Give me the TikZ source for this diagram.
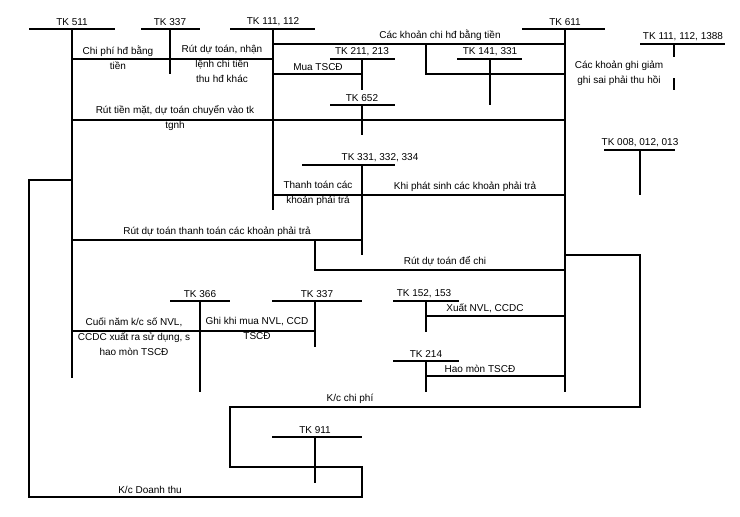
\documentclass[tikz,border=0pt]{standalone}
\usepackage{fontspec}
\setmainfont{Liberation Sans}
\begin{document}
\begin{tikzpicture}[x=1pt,y=-1pt,line width=1.1pt,
  t/.style={inner sep=0pt,font=\fontsize{10}{15}\selectfont,align=center},
  acc/.style={t,anchor=south}]
\useasboundingbox (0,0) rectangle (740,517);
% T accounts: bars + verticals
\draw (29,29)--(115,29) (72,29)--(72,378);
\node[acc] (k511) at (72,26) {TK 511};
\draw (141,29)--(200,29) (170,29)--(170,74);
\node[acc] (k337a) at (170,26) {TK 337};
\draw (230,29)--(315,29) (273,29)--(273,210);
\node[acc] (k111) at (273,26) {TK 111, 112};
\draw (522,29)--(605,29) (565,29)--(565,392);
\node[acc] (k611) at (565,26) {TK 611};
\draw (330,59)--(395,59) (362,59)--(362,90);
\node[acc] (k211) at (362,56) {TK 211, 213};
\draw (457,59)--(522,59) (490,59)--(490,105);
\node[acc] (k141) at (490,56) {TK 141, 331};
\draw (640,44)--(725,44) (674,44)--(674,57) (674,78)--(674,90);
\node[acc] (k1388) at (683,41) {TK 111, 112, 1388};
\draw (330,105)--(395,105) (362,105)--(362,135);
\node[acc] (k652) at (362,102) {TK 652};
\draw (302,165)--(395,165) (362,165)--(362,255);
\node[acc] (k331) at (380,162) {TK 331, 332, 334};
\draw (604,150)--(675,150) (640,150)--(640,195);
\node[acc] (k008) at (640,147) {TK 008, 012, 013};
\draw (170,301)--(230,301) (200,301)--(200,392);
\node[acc] (k366) at (200,298) {TK 366};
\draw (272,301)--(362,301) (315,301)--(315,347);
\node[acc] (k337b) at (317,298) {TK 337};
\draw (393,301)--(459,301) (426,301)--(426,332);
\node[acc] (k152) at (424,298) {TK 152, 153};
\draw (393,361)--(459,361) (426,361)--(426,392);
\node[acc] (k214) at (426,358) {TK 214};
\draw (272,437)--(362,437) (315,437)--(315,483);
\node[acc] (k911) at (315,434) {TK 911};
% entries
\draw (273,44)--(565,44);
\node[acc] (l1) at (440,41) {Các khoản chi hđ bằng tiền};
\draw (72,59)--(273,59);
\node[t,anchor=north] (l2) at (118,45) {Chi phí hđ bằng\\tiền};
\node[t,anchor=north] (l3) at (222,45) {Rút dự toán, nhận\\lệnh chi tiền\\thu hđ khác};
\draw (273,74)--(362,74);
\node[acc] (l4) at (318,71) {Mua TSCĐ};
\draw (426,44)--(426,74)--(565,74);
\node[t,anchor=north] (l5) at (619,60) {Các khoản ghi giảm\\ghi sai phải thu hồi};
\draw (72,120)--(565,120);
\node[t,anchor=north] (l6) at (175,105) {Rút tiền mặt, dự toán chuyển vào tk\\tgnh};
\draw (273,195)--(565,195);
\node[t,anchor=north] (l7) at (318,181) {Thanh toán các\\khoản phải trả};
\node[acc] (l8) at (465,192) {Khi phát sinh các khoản phải trả};
\draw (72,240)--(362,240);
\node[acc] (l9) at (217,237) {Rút dự toán thanh toán các khoản phải trả};
\draw (315,240)--(315,270)--(565,270);
\node[acc] (l10) at (445,267) {Rút dự toán để chi};
\draw (72,331)--(315,331);
\node[t,anchor=north] (l11) at (134,317) {Cuối năm k/c số NVL,\\CCDC xuất ra sử dụng, s\\hao mòn TSCĐ};
\node[t,anchor=north] (l12) at (257,317) {Ghi khi mua NVL, CCD\\TSCĐ};
\draw (426,316)--(565,316);
\node[acc] (l13) at (485,313) {Xuất NVL, CCDC};
\draw (426,376)--(565,376);
\node[acc] (l14) at (480,373) {Hao mòn TSCĐ};
% closing entries
\draw (565,255)--(640,255)--(640,407)--(230,407)--(230,467)--(362,467)--(362,497)--(29,497)--(29,180)--(72,180);
\node[acc] (l15) at (350,404) {K/c chi phí};
\node[acc] (l16) at (150,494) {K/c Doanh thu};
\end{tikzpicture}
\end{document}
